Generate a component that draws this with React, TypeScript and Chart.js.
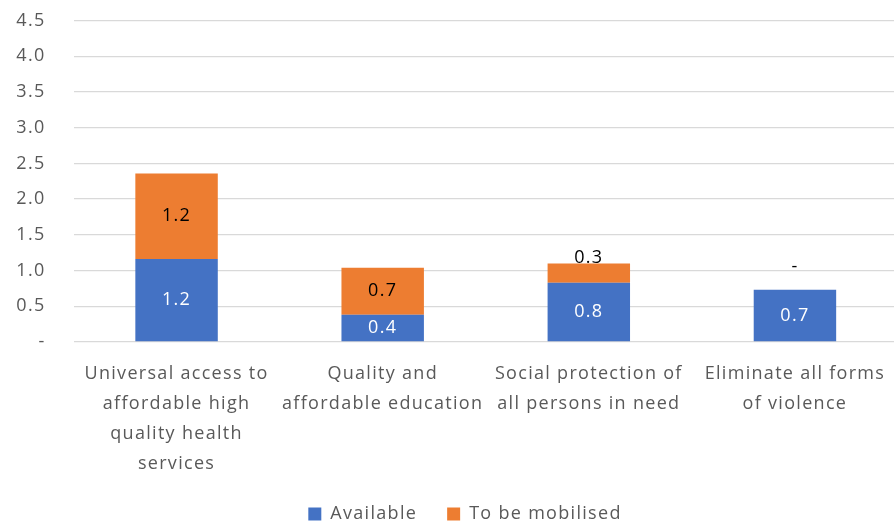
import React, { useEffect, useRef } from "react";
import { Chart, registerables } from "chart.js";

Chart.register(...registerables);

const categories: string[][] = [
  ["Universal access to", "affordable high", "quality health", "services"],
  ["Quality and", "affordable education"],
  ["Social protection of", "all persons in need"],
  ["Eliminate all forms", "of violence"],
];
const available: number[] = [1.16, 0.38, 0.83, 0.73];
const toBeMobilised: number[] = [1.2, 0.66, 0.27, 0];
const seriesNames: string[] = ["Available", "To be mobilised"];
const yMin = 0;
const yMax = 4.5;
const yStep = 0.5;

const FONT = "'Open Sans', sans-serif";
const FS = 18;
const TEXT = "#595959";
const SPACING = "1.3px";

const spacingPlugin = {
  id: "spacing",
  beforeUpdate(chart: any) {
    chart.ctx.letterSpacing = SPACING;
  },
  beforeDraw(chart: any) {
    chart.ctx.letterSpacing = SPACING;
  },
  afterLayout(chart: any) {
    if (chart.legend) {
      chart.legend.left += 16;
      chart.legend.right += 16;
    }
  },
};

const labelPlugin = {
  id: "barLabels",
  afterDatasetsDraw(chart: any) {
    const ctx = chart.ctx;
    ctx.save();
    ctx.font = `${FS}px ${FONT}`;
    ctx.textAlign = "center";
    chart.data.datasets.forEach((ds: any, di: number) => {
      const meta = chart.getDatasetMeta(di);
      meta.data.forEach((el: any, i: number) => {
        const v = ds.data[i] as number;
        const { x, y, base } = el.getProps(["x", "y", "base"], true);
        const h = Math.abs(base - y);
        ctx.fillStyle = di === 0 ? "#ffffff" : "#000000";
        if (v === 0) {
          ctx.fillStyle = "#000000";
          ctx.textBaseline = "alphabetic";
          ctx.fillText("-", x, y - 18);
        } else if (h < 22) {
          ctx.textBaseline = "alphabetic";
          ctx.fillText(v.toFixed(1), x, y);
        } else {
          ctx.textBaseline = "middle";
          ctx.fillText(v.toFixed(1), x, (y + base) / 2);
        }
      });
    });
    ctx.restore();
  },
};

export default function App() {
  const ref = useRef<HTMLCanvasElement | null>(null);
  useEffect(() => {
    document.body.style.margin = "0";
    document.body.style.overflow = "hidden";
    const chart = new Chart(ref.current as HTMLCanvasElement, {
      type: "bar",
      data: {
        labels: categories,
        datasets: [
          {
            label: seriesNames[0],
            data: available,
            backgroundColor: "#4472C4",
            categoryPercentage: 1,
            barPercentage: 0.4,
          },
          {
            label: seriesNames[1],
            data: toBeMobilised,
            backgroundColor: "#ED7D31",
            categoryPercentage: 1,
            barPercentage: 0.4,
          },
        ],
      },
      options: {
        animation: false,
        responsive: false,
        maintainAspectRatio: false,
        layout: { padding: { top: 20.5, right: 0, bottom: 0, left: 0 } },
        plugins: {
          tooltip: { enabled: false },
          legend: {
            position: "bottom",
            labels: {
              boxWidth: 13,
              boxHeight: 13,
              padding: 30,
              color: TEXT,
              font: { family: FONT, size: FS },
            },
          },
        },
        scales: {
          x: {
            stacked: true,
            grid: { display: false },
            border: { display: false },
            ticks: {
              color: TEXT,
              font: { family: FONT, size: FS, lineHeight: 30 / FS },
              maxRotation: 0,
              autoSkip: false,
              padding: 8.5,
            },
            afterFit: (s: any) => {
              s.height = 133;
            },
          },
          y: {
            stacked: true,
            min: yMin,
            max: yMax,
            grid: { color: "#d9d9d9", lineWidth: 1.3, drawTicks: false },
            border: { display: false },
            ticks: {
              stepSize: yStep,
              color: TEXT,
              padding: 28,
              font: { family: FONT, size: FS },
              callback: (v: any) => (Number(v) === 0 ? "-" : Number(v).toFixed(1)),
            },
            afterFit: (s: any) => {
              s.width = 73.5;
              s.paddingTop = 0;
              s.paddingBottom = 0;
            },
          },
        },
      },
      plugins: [spacingPlugin, labelPlugin],
    });
    return () => chart.destroy();
  }, []);
  return (
    <div style={{ position: "fixed", left: 0, top: 0, width: 898, height: 533 }}>
      <canvas ref={ref} width={898} height={533} />
    </div>
  );
}
